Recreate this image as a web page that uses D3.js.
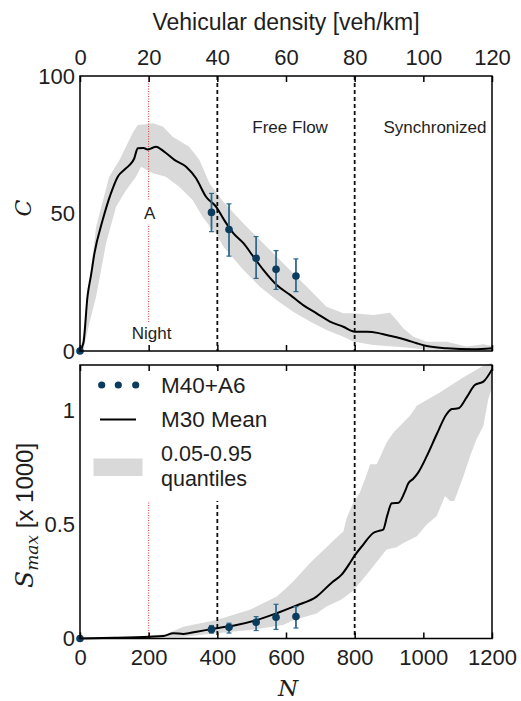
<!DOCTYPE html>
<html><head><meta charset="utf-8">
<script src="https://cdn.jsdelivr.net/npm/d3@7"></script>
<style>
body{margin:0;background:#fff}
svg{display:block}
</style>
</head><body>
<svg id="chart" width="521" height="701"></svg>
<script>
// ---------- data ----------
const xTicks = [0, 200, 400, 600, 800, 1000, 1200];
const densityTicks = [0, 20, 40, 60, 80, 100, 120];
const cTicks = [0, 50, 100];
const sTicks = [0, 0.5, 1];
const regimeLines = [400, 800];
const nightLine = 200;

// top panel: M30 mean of C
const meanTopN = [0,10,22,32,42,66,90,110,130,144,158,168,185,197,210,221,245,275,309,338,367,396,420,447,476,505,534,573,612,650,689,728,767,801,835,870,893,922,951,981,1010,1068,1146,1200];
const meanTopC = [0,3,20,27.5,35.5,47.6,57.3,63.4,66,67.6,70,73.7,73.8,73.3,73.8,74.3,72.5,69.5,67,62.8,56.1,52.5,47.6,42.8,39.2,34.3,29.5,24,20.4,16.7,13.7,10.7,8.8,7,7,6.5,5.8,5,4,2.8,1.8,1,0.6,1];
// top panel quantile band
const bandTopHiN = [0,10,25,47,85,115,153,168,190,212,241,270,318,348,377,416,476,524,573,621,670,718,767,796,854,903,922,942,971,1010,1068,1126,1175,1200];
const bandTopHi = [0,6,22,45.2,63.4,69.5,79.2,82.2,82.5,82.8,81.6,77.9,74.3,69.5,61,54.5,46.4,40.4,34.3,28.3,22.2,16.1,13.7,13.7,13.1,13.9,11.3,8.2,5.2,3.4,3.4,1.6,2.5,1.8];
const bandTopLoN = [0,10,27,47,76,105,134,163,178,212,250,289,328,357,379,396,418,476,524,573,621,670,718,767,796,854,951,1010,1150,1200];
const bandTopLo = [0,0.5,10,19.8,39.2,52.5,58.5,63.4,67,64.6,63.4,59.7,54.9,48.8,45.2,42.8,37.9,29.5,23.4,18.5,14.3,10.7,7.6,5.2,3.5,2.2,1.3,0.5,0.1,0];

// M40+A6 points
const ptN = [0,383,434,513,571,629];
const ptC = [0,50.4,44.2,33.7,29.7,27.3];
const ptCLo = [0,43.4,34.5,26.4,22.4,21.6];
const ptCHi = [0,57.3,53.5,41.6,36.5,33.5];
const ptS = [0,0.04,0.049,0.071,0.093,0.096];
const ptSLo = [0,0.024,0.024,0.035,0.04,0.046];
const ptSHi = [0,0.057,0.067,0.096,0.15,0.14];

// bottom panel: M30 mean of S_max (x1000)
const meanBotN = [0,100,204,243,272,301,340,398,456,515,573,631,689,733,762,786,796,825,854,870,883,895,908,928,945,956,970,985,1010,1039,1068,1083,1102,1126,1150,1175,1201];
const meanBotS = [0,0.003,0.008,0.011,0.023,0.02,0.03,0.045,0.059,0.081,0.111,0.145,0.184,0.245,0.28,0.331,0.355,0.412,0.463,0.472,0.478,0.54,0.593,0.596,0.64,0.68,0.70,0.728,0.80,0.896,0.985,1.007,1.01,1.058,1.112,1.127,1.183];
const bandBotHiN = [0,150,252,301,398,495,573,600,621,670,718,745,767,777,796,815,835,845,864,875,893,913,961,981,1049,1117,1175,1200];
const bandBotHi = [0,0.005,0.02,0.052,0.081,0.126,0.184,0.22,0.25,0.331,0.40,0.44,0.47,0.53,0.596,0.64,0.72,0.764,0.764,0.80,0.86,0.904,0.977,1.021,1.08,1.146,1.197,1.21];
const bandBotLoN = [0,200,301,398,495,592,621,689,718,760,796,845,893,922,942,981,1010,1039,1063,1078,1090,1117,1136,1155,1175,1189,1200];
const bandBotLo = [0,0.003,0.008,0.023,0.037,0.059,0.08,0.11,0.14,0.17,0.21,0.30,0.39,0.40,0.419,0.449,0.50,0.537,0.625,0.603,0.603,0.713,0.80,0.874,0.933,1.05,1.1];

// ---------- styles ----------
const SANS = '"Liberation Sans", Arial, Helvetica, sans-serif';
const SERIF = '"DejaVu Serif", "Liberation Serif", serif';
const BAND = '#d9d9d9', DOT = '#0b3c5d', ERR = '#2f6a8c', TXT = '#1e1e1e';

const svg = d3.select('#chart');
const L = 80, R = 492;
const x = d3.scaleLinear().domain([0, 1200]).range([L, R]);
const xd = d3.scaleLinear().domain([0, 120]).range([L, R]);
const yC = d3.scaleLinear().domain([0, 100]).range([351, 76]);
const yS = d3.scaleLinear().domain([0, 1.2]).range([638.5, 365]);
const fmt = d => String(d);

function zip(a, b) { return a.map((v, i) => [v, b[i]]); }

function panel(y, hiN, hi, loN, lo) {
  const g = svg.append('g');
  const up = zip(hiN, hi).map(d => [x(d[0]), y(d[1])]);
  const dn = zip(loN, lo).map(d => [x(d[0]), y(d[1])]).reverse();
  g.append('path').attr('d', d3.line().curve(d3.curveLinearClosed)(up.concat(dn)))
    .attr('fill', BAND).attr('stroke', 'none');
  return g;
}

function drawMean(g, y, mN, m) {
  g.append('path').datum(zip(mN, m))
    .attr('d', d3.line().x(d => x(d[0])).y(d => y(d[1])).curve(d3.curveMonotoneX))
    .attr('fill', 'none').attr('stroke', '#000').attr('stroke-width', 2);
}

function drawPoints(g, y, vals, lo, hi) {
  ptN.forEach((n, i) => {
    if (i > 0) {
      g.append('line').attr('x1', x(n)).attr('x2', x(n)).attr('y1', y(lo[i])).attr('y2', y(hi[i]))
        .attr('stroke', ERR).attr('stroke-width', 1.8);
      [lo[i], hi[i]].forEach(v => g.append('line').attr('x1', x(n) - 2.5).attr('x2', x(n) + 2.5)
        .attr('y1', y(v)).attr('y2', y(v)).attr('stroke', ERR).attr('stroke-width', 1.2));
    }
    g.append('circle').attr('cx', x(n)).attr('cy', y(vals[i])).attr('r', 3.8).attr('fill', DOT);
  });
}

function frame(y) {
  const [b, t] = y.range();
  svg.append('rect').attr('x', L).attr('y', t).attr('width', R - L).attr('height', b - t)
    .attr('fill', 'none').attr('stroke', '#000').attr('stroke-width', 1.5);
}

function styleAxis(sel, fs) {
  sel.select('.domain').remove();
  sel.selectAll('.tick line').attr('stroke', '#000').attr('stroke-width', 1.5);
  sel.selectAll('.tick text').attr('fill', TXT).attr('font-family', SANS).attr('font-size', fs);
}

// ---------- top panel ----------
const gT = panel(yC, bandTopHiN, bandTopHi, bandTopLoN, bandTopLo);
gT.append('line').attr('x1', x(nightLine)).attr('x2', x(nightLine)).attr('y1', yC(100)).attr('y2', yC(10.3))
  .attr('stroke', '#e0323a').attr('stroke-width', 1).attr('stroke-dasharray', '1,1.5');
regimeLines.forEach(v => gT.append('line').attr('x1', x(v)).attr('x2', x(v)).attr('y1', yC(100)).attr('y2', yC(0))
  .attr('stroke', '#111').attr('stroke-width', 1.8).attr('stroke-dasharray', '4,3'));
drawMean(gT, yC, meanTopN, meanTopC);
gT.append('rect').attr('x', x(200) - 7).attr('y', yC(55)).attr('width', 14).attr('height', yC(46) - yC(55)).attr('fill', '#fff');
gT.append('text').attr('x', x(200) + 1).attr('y', yC(50.2)).attr('dy', '0.35em').attr('text-anchor', 'middle')
  .attr('font-family', SANS).attr('font-size', 17).attr('fill', TXT).text('A');
gT.append('text').attr('x', x(200) + 3).attr('y', yC(6.5)).attr('dy', '0.35em').attr('text-anchor', 'middle')
  .attr('font-family', SANS).attr('font-size', 17).attr('fill', TXT).text('Night');
gT.append('text').attr('x', x(612)).attr('y', yC(81.5)).attr('dy', '0.35em').attr('text-anchor', 'middle')
  .attr('font-family', SANS).attr('font-size', 17).attr('fill', TXT).text('Free Flow');
gT.append('text').attr('x', x(1034)).attr('y', yC(81.5)).attr('dy', '0.35em').attr('text-anchor', 'middle')
  .attr('font-family', SANS).attr('font-size', 17).attr('fill', TXT).text('Synchronized');
drawPoints(gT, yC, ptC, ptCLo, ptCHi);
frame(yC);

svg.append('g').attr('transform', `translate(0,${yC(100)})`)
  .call(d3.axisTop(xd).tickValues(densityTicks).tickSize(-6).tickPadding(11).tickFormat(fmt))
  .call(s => styleAxis(s, 22));
svg.append('g').attr('transform', `translate(0,${yC(0)})`)
  .call(d3.axisBottom(x).tickValues(xTicks).tickSize(-6).tickFormat(''))
  .call(s => styleAxis(s, 22));
svg.append('g').attr('transform', `translate(${L},0)`)
  .call(d3.axisLeft(yC).tickValues(cTicks).tickSize(0).tickPadding(5).tickFormat(fmt))
  .call(s => styleAxis(s, 22));

svg.append('text').attr('x', x(600)).attr('y', 30).attr('text-anchor', 'middle')
  .attr('font-family', SANS).attr('font-size', 23).attr('fill', TXT).text('Vehicular density [veh/km]');
svg.append('text').attr('transform', `translate(31,${yC(52)}) rotate(-90)`).attr('text-anchor', 'middle')
  .attr('font-family', SERIF).attr('font-style', 'italic').attr('font-size', 22).attr('fill', TXT).text('C');

// ---------- bottom panel ----------
const gB = panel(yS, bandBotHiN, bandBotHi, bandBotLoN, bandBotLo);
gB.append('line').attr('x1', x(nightLine)).attr('x2', x(nightLine)).attr('y1', yS(1.2)).attr('y2', yS(0))
  .attr('stroke', '#e0323a').attr('stroke-width', 1).attr('stroke-dasharray', '1,1.5');
regimeLines.forEach(v => gB.append('line').attr('x1', x(v)).attr('x2', x(v)).attr('y1', yS(1.2)).attr('y2', yS(0))
  .attr('stroke', '#111').attr('stroke-width', 1.8).attr('stroke-dasharray', '4,3'));
drawMean(gB, yS, meanBotN, meanBotS);
drawPoints(gB, yS, ptS, ptSLo, ptSHi);

// legend
const lg = svg.append('g');
lg.append('rect').attr('x', 82).attr('y', 367).attr('width', 215).attr('height', 134).attr('fill', '#fff');
[101.7, 118.3, 135.7].forEach(cx => lg.append('circle').attr('cx', cx).attr('cy', 385).attr('r', 3.6).attr('fill', DOT));
lg.append('line').attr('x1', 100).attr('x2', 136).attr('y1', 419.5).attr('y2', 419.5).attr('stroke', '#000').attr('stroke-width', 2);
lg.append('rect').attr('x', 93.5).attr('y', 458.5).attr('width', 49).attr('height', 17.5).attr('fill', BAND);
[['M40+A6', 385], ['M30 Mean', 419.5]].forEach(([t, yy]) =>
  lg.append('text').attr('x', 161).attr('y', yy).attr('dy', '0.35em').attr('font-family', SANS)
    .attr('font-size', 22.5).attr('fill', TXT).text(t));
const q = lg.append('text').attr('font-family', SANS).attr('font-size', 21.5).attr('fill', TXT);
q.append('tspan').attr('x', 161).attr('y', 461).text('0.05-0.95');
q.append('tspan').attr('x', 161).attr('y', 486).text('quantiles');

frame(yS);
svg.append('g').attr('transform', `translate(0,${yS(1.2)})`)
  .call(d3.axisTop(x).tickValues(xTicks).tickSize(-6).tickFormat(''))
  .call(s => styleAxis(s, 22));
svg.append('g').attr('transform', `translate(0,${yS(0)})`)
  .call(d3.axisBottom(x).tickValues(xTicks).tickSize(-6).tickPadding(11).tickFormat(fmt))
  .call(s => styleAxis(s, 22));
svg.append('g').attr('transform', `translate(${L},0)`)
  .call(d3.axisLeft(yS).tickValues(sTicks).tickSize(0).tickPadding(5).tickFormat(fmt))
  .call(s => styleAxis(s, 22));

const sl = svg.append('text').attr('transform', `translate(33,${yS(0.54)}) rotate(-90)`).attr('text-anchor', 'middle')
  .attr('font-family', SANS).attr('font-size', 24).attr('fill', TXT);
sl.append('tspan').attr('font-family', SERIF).attr('font-style', 'italic').attr('font-size', 25).text('S');
sl.append('tspan').attr('font-family', SERIF).attr('font-style', 'italic').attr('font-size', 17).attr('dy', 5).text('max');
sl.append('tspan').attr('dy', -5).text(' [x 1000]');

svg.append('text').attr('x', x(600) + 2).attr('y', 696).attr('text-anchor', 'middle')
  .attr('font-family', SERIF).attr('font-style', 'italic').attr('font-size', 23).attr('fill', TXT).text('N');
</script>
</body></html>
